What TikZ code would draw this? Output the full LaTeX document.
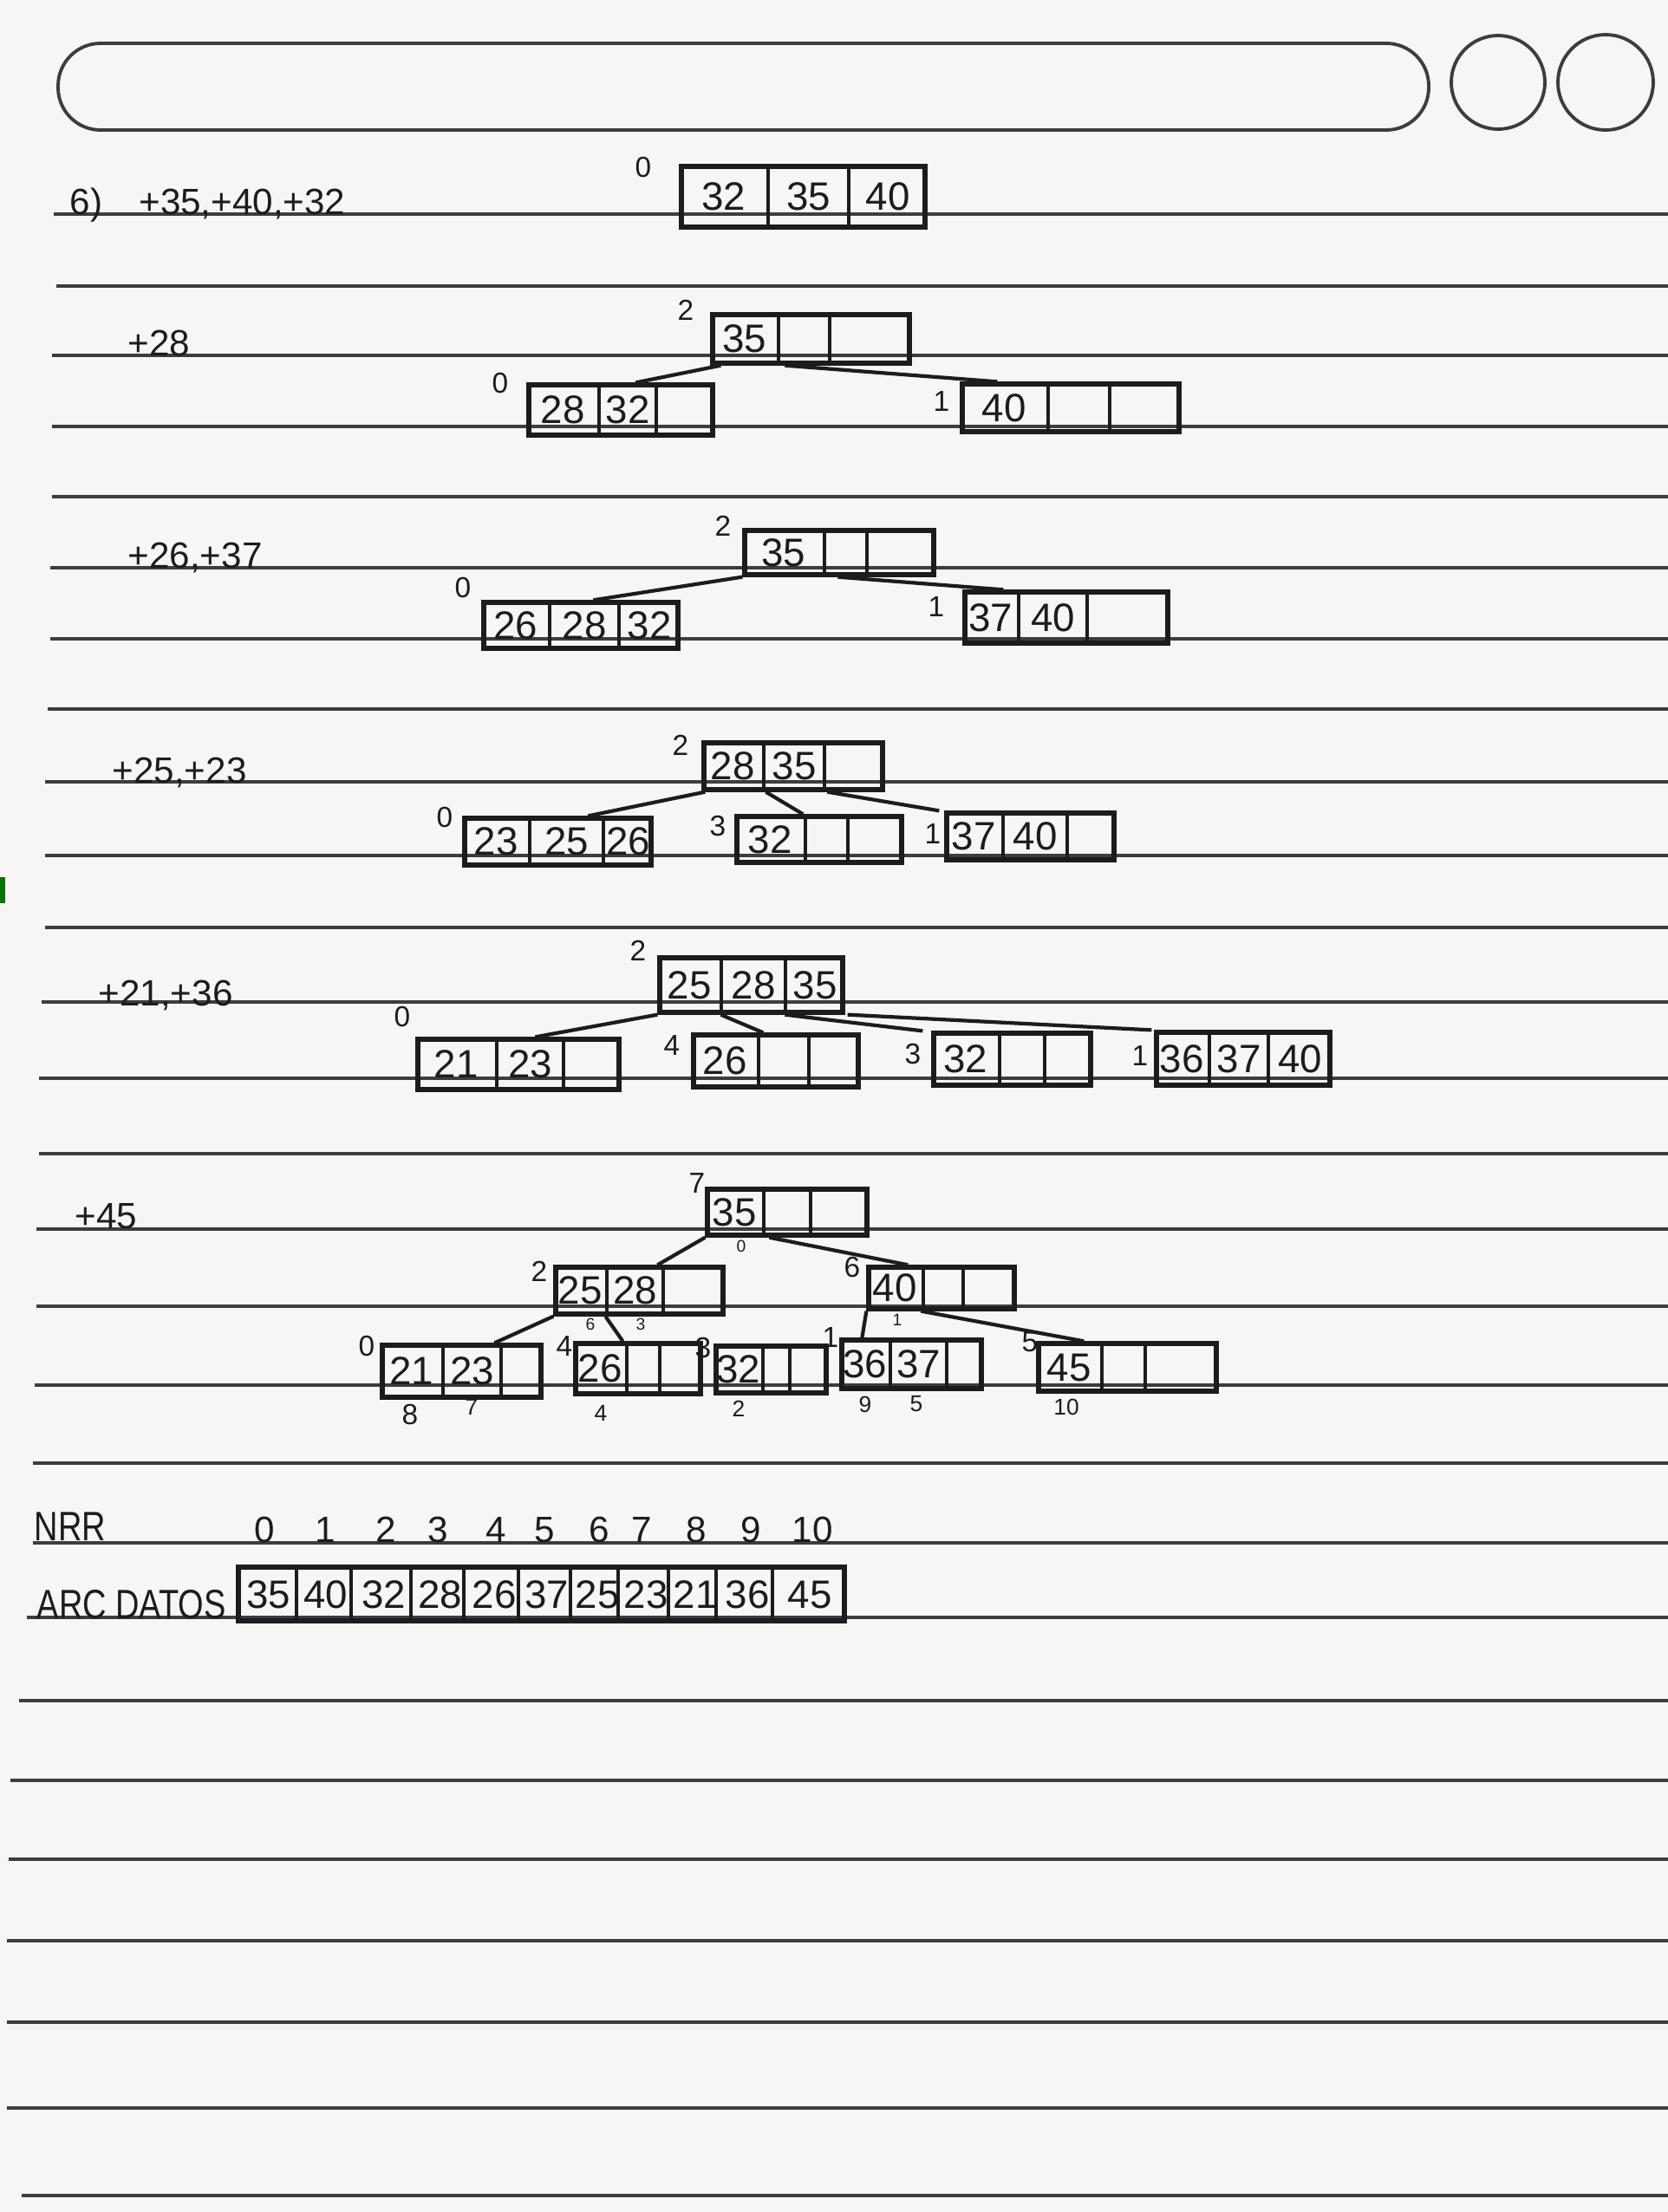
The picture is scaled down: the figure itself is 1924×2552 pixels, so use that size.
\documentclass[tikz,border=0pt]{standalone}
\usepackage{fontspec}
\setmainfont{Liberation Sans}
\newfontfamily\condfont{Liberation Sans}[FakeStretch=0.8]
\usetikzlibrary{calc,fit}
\definecolor{paperc}{RGB}{247,246,244}
\definecolor{inkc}{RGB}{28,28,30}
\definecolor{rulec}{RGB}{62,60,64}

% one B-tree page: box with three key cells
\newcommand{\keynode}[8]{%
 \node[keybox,fit={#2 #3}] (#1) {};
 \coordinate (#1-p) at (#4,0);
 \coordinate (#1-q) at (#5,0);
 \draw[keyline] (#1.north -| #1-p) -- (#1.south -| #1-p);
 \draw[keyline] (#1.north -| #1-q) -- (#1.south -| #1-q);
 \node[keytext] (#1-1) at ($(#1.west)!.5!(#1.west -| #1-p)$) {#6};
 \node[keytext] (#1-2) at ($(#1.west -| #1-p)!.5!(#1.west -| #1-q)$) {#7};
 \node[keytext] (#1-3) at ($(#1.west -| #1-q)!.5!(#1.east)$) {#8};
}

\begin{document}
\begin{tikzpicture}[x=0.1mm,y=-0.1mm,
 every node/.style={text=inkc},
 keybox/.style={draw=inkc,line width=1.5pt,inner sep=0pt},
 keyline/.style={draw=inkc,line width=1.1pt},
 keytext/.style={font=\fontsize{13}{13}\selectfont,inner sep=0pt},
 nlbl/.style={font=\fontsize{9.5}{9.5}\selectfont,inner sep=0pt},
 sublbl/.style={font=\fontsize{7.5}{7.5}\selectfont,inner sep=0pt},
 minilbl/.style={font=\fontsize{5.5}{5.5}\selectfont,inner sep=0pt},
 side/.style={font=\fontsize{12}{12}\selectfont,anchor=base west,inner sep=0pt},
 cond/.style={font=\condfont\fontsize{13.5}{13.5}\selectfont,anchor=base west,inner sep=0pt},
 nrrnum/.style={font=\fontsize{12}{12}\selectfont,inner sep=0pt},
 edge/.style={draw=inkc,line width=1.2pt},
 rule/.style={draw=rulec,line width=1.1pt}]
\fill[paperc] (0,0) rectangle (1924,2552);
\useasboundingbox (0,0) rectangle (1924,2552);

% page header and ruling
\draw[rule,rounded corners=4.9mm] (67,50) rectangle (1648,150);
\draw[rule] (1728,95) circle [radius=54];
\draw[rule] (1852,95) circle [radius=55];
\foreach \y/\s in {247/62,330/65,410/60,492/60,573/60,655/58,737/58,818/55,902/52,987/52,
  1070/52,1156/48,1244/45,1331/45,1418/42,1507/42,1598/40,1688/38,1780/38,1866/31,
  1962/22,2054/12,2145/10,2239/8,2333/8,2432/8,2533/25}
  \draw[rule] (\s,\y) -- (1924,\y);
\fill[green!45!black] (0,1012) rectangle (6,1042);

% 6) +35,+40,+32
\node[side] (s1) at (80,247) {6)\hspace{1em}+35,+40,+32};
\keynode{t1}{(786,192)}{(1067,262)}{886}{979}{32}{35}{40}
\node[nlbl] (t1-n) at (742,193) {0};

% +28
\node[side] (s2) at (147,410) {+28};
\keynode{t2r}{(822,363)}{(1049,419)}{898}{957}{35}{}{}
\keynode{t2a}{(610,444)}{(822,502)}{691}{757}{28}{32}{}
\keynode{t2b}{(1110,443)}{(1360,498)}{1209}{1280}{40}{}{}
\node[nlbl] (t2r-n) at (791,358) {2};
\node[nlbl] (t2a-n) at (577,442) {0};
\node[nlbl] (t2b-n) at (1086,463) {1};
\draw[edge] ($(t2r.south west)+(12,0)$) -- ($(t2a.north west)+(126,0)$);
\draw[edge] ($(t2r.south west)+(86,0)$) -- ($(t2b.north west)+(43,0)$);

% +26,+37
\node[side] (s3) at (147,655) {+26,+37};
\keynode{t3r}{(859,612)}{(1077,663)}{951}{1000}{35}{}{}
\keynode{t3a}{(558,695)}{(782,748)}{634}{714}{26}{28}{32}
\keynode{t3b}{(1113,683)}{(1347,742)}{1175}{1254}{37}{40}{}
\node[nlbl] (t3r-n) at (834,607) {2};
\node[nlbl] (t3a-n) at (534,678) {0};
\node[nlbl] (t3b-n) at (1080,700) {1};
\draw[edge] (t3r.south west) -- ($(t3a.north west)+(129,0)$);
\draw[edge] ($(t3r.south west)+(110,0)$) -- ($(t3b.north west)+(47,0)$);

% +25,+23
\node[side] (s4) at (129,903) {+25,+23};
\keynode{t4r}{(812,857)}{(1018,911)}{881}{951}{28}{35}{}
\keynode{t4a}{(536,944)}{(751,998)}{611}{696}{23}{25}{26}
\keynode{t4b}{(850,942)}{(1040,995)}{929}{978}{32}{}{}
\keynode{t4c}{(1092,938)}{(1285,992)}{1157}{1231}{37}{40}{}
\node[nlbl] (t4r-n) at (785,860) {2};
\node[nlbl] (t4a-n) at (513,943) {0};
\node[nlbl] (t4b-n) at (828,953) {3};
\node[nlbl] (t4c-n) at (1076,962) {1};
\draw[edge] ($(t4r.south west)+(4,0)$) -- ($(t4a.north west)+(145,0)$);
\draw[edge] ($(t4r.south west)+(74,0)$) -- ($(t4b.north west)+(79,0)$);
\draw[edge] ($(t4r.south west)+(145,0)$) -- ($(t4c.north west)+(-6,0)$);

% +21,+36
\node[side] (s5) at (113,1160) {+21,+36};
\keynode{t5r}{(761,1105)}{(972,1168)}{832}{906}{25}{28}{35}
\keynode{t5a}{(482,1199)}{(714,1257)}{573}{650}{21}{23}{}
\keynode{t5b}{(800,1194)}{(990,1254)}{875}{933}{26}{}{}
\keynode{t5c}{(1077,1192)}{(1258,1252)}{1153}{1205}{32}{}{}
\keynode{t5d}{(1334,1191)}{(1534,1252)}{1395}{1463}{36}{37}{40}
\node[nlbl] (t5r-n) at (736,1097) {2};
\node[nlbl] (t5a-n) at (464,1173) {0};
\node[nlbl] (t5b-n) at (775,1206) {4};
\node[nlbl] (t5c-n) at (1053,1216) {3};
\node[nlbl] (t5d-n) at (1315,1218) {1};
\draw[edge] (t5r.south west) -- ($(t5a.north west)+(138,0)$);
\draw[edge] ($(t5r.south west)+(73,0)$) -- ($(t5b.north west)+(83,0)$);
\draw[edge] ($(t5r.south west)+(147,0)$) -- ($(t5c.north west)+(-10,0)$);
\draw[edge] ($(t5r.south east)+(3,0)$) -- ($(t5d.north west)+(-3,0)$);

% +45
\node[side] (s6) at (86,1417) {+45};
\keynode{t6r}{(816,1372)}{(1000,1425)}{881}{935}{35}{}{}
\keynode{t6l}{(641,1462)}{(834,1516)}{700}{765}{25}{28}{}
\keynode{t6m}{(1002,1462)}{(1170,1510)}{1065}{1111}{40}{}{}
\keynode{t6a}{(441,1552)}{(624,1612)}{511}{578}{21}{23}{}
\keynode{t6b}{(664,1550)}{(808,1608)}{723}{761}{26}{}{}
\keynode{t6c}{(826,1553)}{(953,1607)}{880}{911}{32}{}{}
\keynode{t6d}{(971,1546)}{(1132,1602)}{1027}{1092}{36}{37}{}
\keynode{t6e}{(1198,1550)}{(1403,1605)}{1271}{1321}{45}{}{}
\node[nlbl] (t6r-n) at (804,1365) {7};
\node[nlbl] (t6l-n) at (622,1467) {2};
\node[nlbl] (t6m-n) at (983,1462) {6};
\node[nlbl] (t6a-n) at (423,1553) {0};
\node[nlbl] (t6b-n) at (651,1553) {4};
\node[nlbl] (t6c-n) at (811,1555) {3};
\node[nlbl] (t6d-n) at (958,1543) {1};
\node[nlbl] (t6e-n) at (1188,1548) {5};
% data record numbers
\node[minilbl] (t6r-r1) at (855,1438) {0};
\node[minilbl] (t6l-r1) at (681,1528) {6};
\node[minilbl] (t6l-r2) at (739,1528) {3};
\node[minilbl] (t6m-r1) at (1035,1523) {1};
\node[nlbl] (t6a-r1) at (473,1632) {8};
\node[sublbl] (t6a-r2) at (544,1623) {7};
\node[sublbl] (t6b-r1) at (693,1630) {4};
\node[sublbl] (t6c-r1) at (852,1625) {2};
\node[sublbl] (t6d-r1) at (998,1620) {9};
\node[sublbl] (t6d-r2) at (1057,1620) {5};
\node[sublbl] (t6e-r1) at (1230,1623) {10};
\draw[edge] (t6r.south west) -- ($(t6l.north west)+(120,0)$);
\draw[edge] ($(t6r.south west)+(74,0)$) -- ($(t6m.north west)+(48,0)$);
\draw[edge] (t6l.south west) -- ($(t6a.north west)+(132,0)$);
\draw[edge] ($(t6l.south west)+(60,0)$) -- ($(t6b.north west)+(57,0)$);
\draw[edge] (t6m.south west) -- ($(t6d.north west)+(26,0)$);
\draw[edge] ($(t6m.south west)+(63,0)$) -- ($(t6e.north west)+(55,0)$);

% data file
\node[cond] (nrr) at (39,1777) {NRR};
\foreach \x [count=\i from 0] in {305,375,445,505,572,628,691,740,803,866,937}
  \node[nrrnum] (n\i) at (\x,1765) {\i};
\node[cond] (arcl) at (42,1867) {ARC DATOS};
\node[keybox,fit={(275,1808) (974,1870)}] (datos) {};
\foreach \d in {345,408,477,538,601,661,716,774,829,894}
  \draw[keyline] ($(datos.north west)+(\d-275,0)$) -- ($(datos.south west)+(\d-275,0)$);
\foreach \x/\v [count=\i] in {310/35,376/40,443/32,508/28,570/26,631/37,689/25,745/23,802/21,862/36,934/45}
  \node[keytext] (d\i) at (\x,1840) {\v};
\end{tikzpicture}
\end{document}
